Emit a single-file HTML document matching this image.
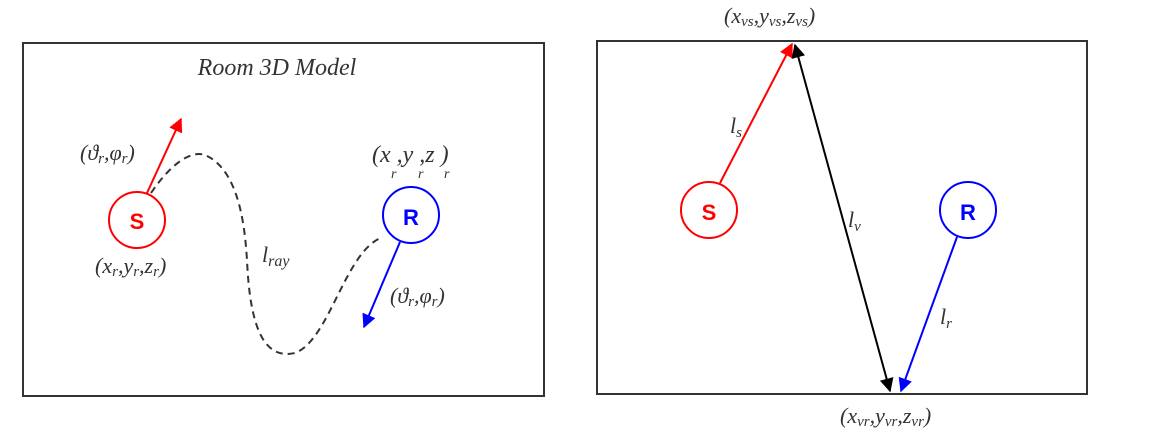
<!DOCTYPE html>
<html><head><meta charset="utf-8"><style>
html,body{margin:0;padding:0;background:#fff}
svg text{font-family:"Liberation Serif",serif;font-style:italic;fill:#333}
.b{font-family:"Liberation Sans",sans-serif;font-style:normal;font-weight:bold}
</style></head><body>
<svg width="1152" height="442" viewBox="0 0 1152 442" xmlns="http://www.w3.org/2000/svg">
<defs>
<marker id="ar" viewBox="0 0 10 10" refX="9" refY="5" markerWidth="7" markerHeight="7" orient="auto"><path d="M0,0L10,5L0,10z" fill="#f00"/></marker>
<marker id="ab" viewBox="0 0 10 10" refX="9" refY="5" markerWidth="7" markerHeight="7" orient="auto"><path d="M0,0L10,5L0,10z" fill="#00f"/></marker>
<marker id="ak" viewBox="0 0 10 10" refX="9" refY="5" markerWidth="7" markerHeight="7" orient="auto"><path d="M0,0L10,5L0,10z" fill="#000"/></marker>
<marker id="aks" viewBox="0 0 10 10" refX="1" refY="5" markerWidth="7" markerHeight="7" orient="auto"><path d="M10,0L0,5L10,10z" fill="#000"/></marker>
</defs>
<rect x="23" y="43" width="521" height="353" fill="none" stroke="#333" stroke-width="2"/>
<rect x="597" y="41" width="490" height="353" fill="none" stroke="#333" stroke-width="2"/>
<text x="277" y="75" font-size="24" text-anchor="middle">Room 3D Model</text>
<path d="M151,193 C170,165 190,150 205,155 C240,170 245,230 247,260 C250,330 265,360 295,353 C330,340 345,250 383,237" fill="none" stroke="#333" stroke-width="2" stroke-dasharray="7,5"/>
<line x1="147" y1="193" x2="181" y2="119" stroke="#f00" stroke-width="2" marker-end="url(#ar)"/>
<circle cx="137" cy="220" r="28" fill="none" stroke="#f00" stroke-width="2"/>
<text x="137" y="229" font-size="22" class="b" text-anchor="middle" style="fill:#f00">S</text>
<line x1="400" y1="242" x2="364" y2="327" stroke="#00f" stroke-width="2" marker-end="url(#ab)"/>
<circle cx="411" cy="215" r="28" fill="none" stroke="#00f" stroke-width="2"/>
<text x="411" y="225" font-size="22" class="b" text-anchor="middle" style="fill:#00f">R</text>
<text x="80" y="160" font-size="22">(ϑ<tspan font-size="15" dy="3">r</tspan><tspan dy="-3">,φ</tspan><tspan font-size="15" dy="3">r</tspan><tspan dy="-3">)</tspan></text>
<text x="95" y="273" font-size="22">(x<tspan font-size="15" dy="3">r</tspan><tspan dy="-3">,y</tspan><tspan font-size="15" dy="3">r</tspan><tspan dy="-3">,z</tspan><tspan font-size="15" dy="3">r</tspan><tspan dy="-3">)</tspan></text>
<text x="262" y="262" font-size="22">l<tspan font-size="16" dy="4">ray</tspan></text>
<text x="372" y="162" font-size="24">(x ,y ,z )</text>
<text x="391" y="178" font-size="14">r</text><text x="418" y="178" font-size="14">r</text><text x="444" y="178" font-size="14">r</text>
<text x="390" y="303" font-size="22">(ϑ<tspan font-size="15" dy="3">r</tspan><tspan dy="-3">,φ</tspan><tspan font-size="15" dy="3">r</tspan><tspan dy="-3">)</tspan></text>
<line x1="720" y1="183" x2="792" y2="44" stroke="#f00" stroke-width="2" marker-end="url(#ar)"/>
<line x1="795" y1="45" x2="890" y2="391" stroke="#000" stroke-width="2" marker-start="url(#aks)" marker-end="url(#ak)"/>
<line x1="957" y1="237" x2="901" y2="391" stroke="#00f" stroke-width="2" marker-end="url(#ab)"/>
<circle cx="709" cy="210" r="28" fill="none" stroke="#f00" stroke-width="2"/>
<text x="709" y="220" font-size="22" class="b" text-anchor="middle" style="fill:#f00">S</text>
<circle cx="968" cy="210" r="28" fill="none" stroke="#00f" stroke-width="2"/>
<text x="968" y="220" font-size="22" class="b" text-anchor="middle" style="fill:#00f">R</text>
<text x="724" y="23" font-size="22">(x<tspan font-size="15" dy="3">vs</tspan><tspan dy="-3">,y</tspan><tspan font-size="15" dy="3">vs</tspan><tspan dy="-3">,z</tspan><tspan font-size="15" dy="3">vs</tspan><tspan dy="-3">)</tspan></text>
<text x="730" y="133" font-size="22">l<tspan font-size="15" dy="4">s</tspan></text>
<text x="848" y="227" font-size="22">l<tspan font-size="15" dy="4">v</tspan></text>
<text x="940" y="324" font-size="22">l<tspan font-size="15" dy="4">r</tspan></text>
<text x="840" y="423" font-size="22">(x<tspan font-size="15" dy="3">vr</tspan><tspan dy="-3">,y</tspan><tspan font-size="15" dy="3">vr</tspan><tspan dy="-3">,z</tspan><tspan font-size="15" dy="3">vr</tspan><tspan dy="-3">)</tspan></text>
</svg>
</body></html>
